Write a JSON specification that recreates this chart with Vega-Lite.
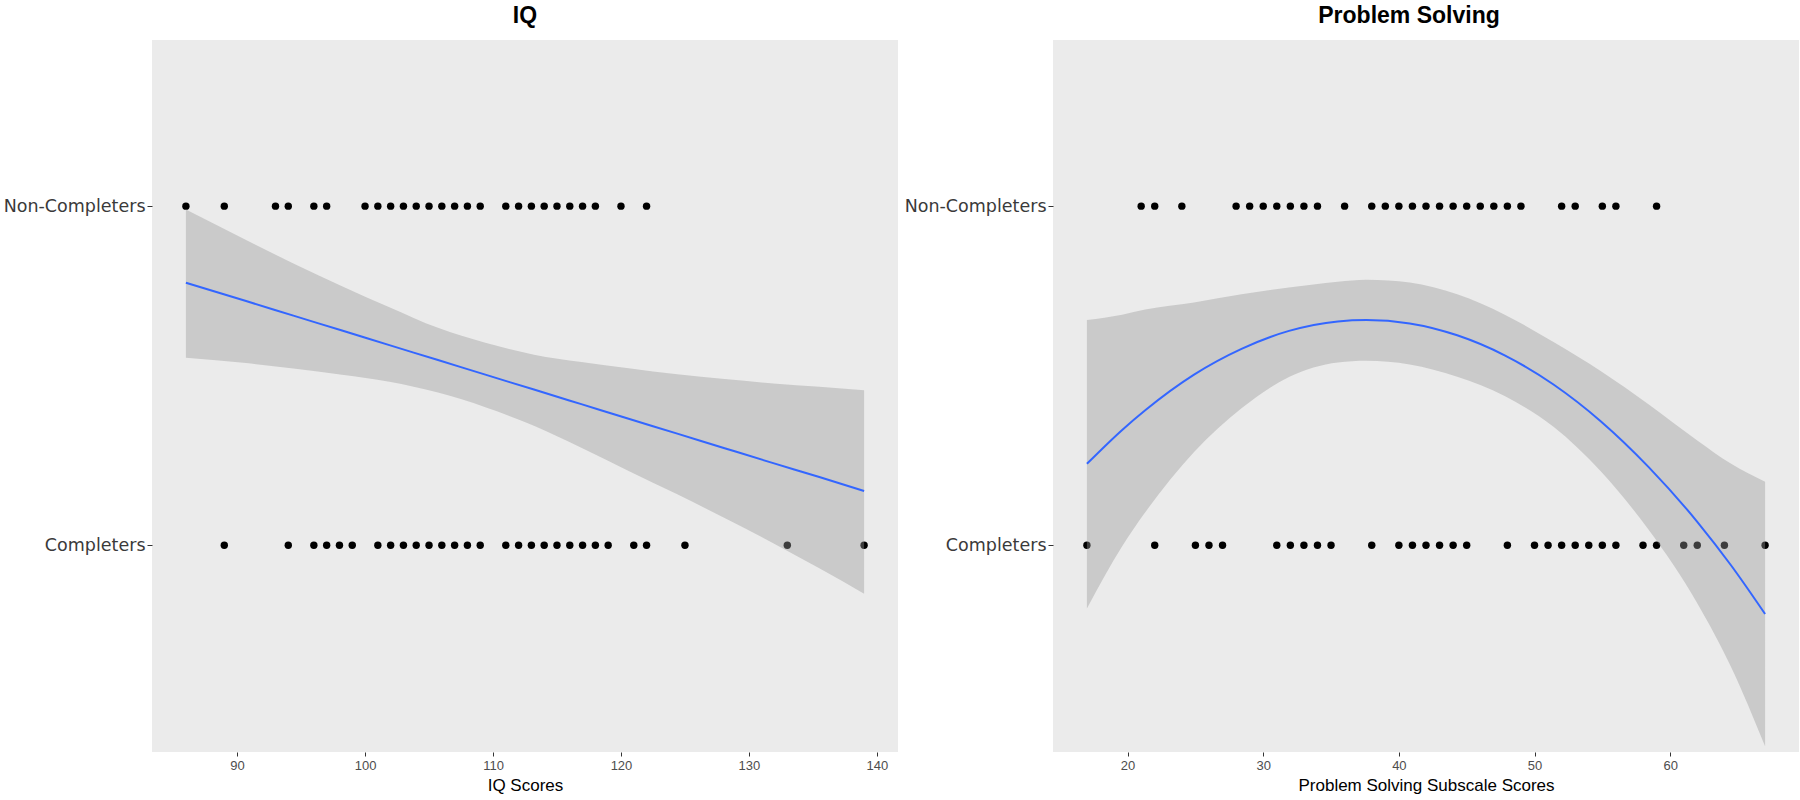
{
  "$schema": "https://vega.github.io/schema/vega-lite/v6.json",
  "padding": {"left": 3, "top": 5, "right": 2, "bottom": 6},
  "background": "white",
  "bounds": "flush",
  "spacing": 155,
  "config": {
    "view": {"fill": "#EBEBEB", "stroke": null},
    "axis": {"grid": false, "domain": false, "tickColor": "#333333"},
    "axisX": {"tickSize": 4, "labelPadding": 3, "labelFont": "Liberation Sans", "labelFontSize": 13, "labelColor": "#4D4D4D", "titleFont": "Liberation Sans", "titleFontSize": 17, "titleFontWeight": "normal", "titleColor": "#000000", "titlePadding": 5},
    "axisY": {"tickSize": 5, "labelPadding": 2, "labelFont": "DejaVu Sans", "labelFontSize": 17.5, "labelColor": "#3A3A3A"},
    "title": {"font": "Liberation Sans", "fontSize": 23, "fontWeight": "bold", "color": "#000000", "offset": 12, "anchor": "middle"}
  },
  "datasets": {
    "iq_points": [
      {"score": 86, "outcome": 1}, {"score": 89, "outcome": 1}, {"score": 93, "outcome": 1}, {"score": 94, "outcome": 1}, {"score": 96, "outcome": 1}, {"score": 97, "outcome": 1},
      {"score": 100, "outcome": 1}, {"score": 101, "outcome": 1}, {"score": 102, "outcome": 1}, {"score": 103, "outcome": 1}, {"score": 104, "outcome": 1}, {"score": 105, "outcome": 1}, {"score": 106, "outcome": 1}, {"score": 107, "outcome": 1}, {"score": 108, "outcome": 1}, {"score": 109, "outcome": 1},
      {"score": 111, "outcome": 1}, {"score": 112, "outcome": 1}, {"score": 113, "outcome": 1}, {"score": 114, "outcome": 1}, {"score": 115, "outcome": 1}, {"score": 116, "outcome": 1}, {"score": 117, "outcome": 1}, {"score": 118, "outcome": 1},
      {"score": 120, "outcome": 1}, {"score": 122, "outcome": 1},
      {"score": 89, "outcome": 0}, {"score": 94, "outcome": 0}, {"score": 96, "outcome": 0}, {"score": 97, "outcome": 0}, {"score": 98, "outcome": 0}, {"score": 99, "outcome": 0},
      {"score": 101, "outcome": 0}, {"score": 102, "outcome": 0}, {"score": 103, "outcome": 0}, {"score": 104, "outcome": 0}, {"score": 105, "outcome": 0}, {"score": 106, "outcome": 0}, {"score": 107, "outcome": 0}, {"score": 108, "outcome": 0}, {"score": 109, "outcome": 0},
      {"score": 111, "outcome": 0}, {"score": 112, "outcome": 0}, {"score": 113, "outcome": 0}, {"score": 114, "outcome": 0}, {"score": 115, "outcome": 0}, {"score": 116, "outcome": 0}, {"score": 117, "outcome": 0}, {"score": 118, "outcome": 0}, {"score": 119, "outcome": 0},
      {"score": 121, "outcome": 0}, {"score": 122, "outcome": 0}, {"score": 125, "outcome": 0}, {"score": 133, "outcome": 0}, {"score": 139, "outcome": 0}
    ],
    "iq_fit": [
      {"score": 86, "lower": 0.553, "upper": 0.990, "fit": 0.774},
      {"score": 90.7, "lower": 0.537, "upper": 0.900, "fit": 0.720},
      {"score": 94.4, "lower": 0.521, "upper": 0.831, "fit": 0.677},
      {"score": 98.2, "lower": 0.503, "upper": 0.764, "fit": 0.633},
      {"score": 101.9, "lower": 0.482, "upper": 0.702, "fit": 0.590},
      {"score": 105.7, "lower": 0.450, "upper": 0.641, "fit": 0.546},
      {"score": 109.4, "lower": 0.407, "upper": 0.597, "fit": 0.503},
      {"score": 113.2, "lower": 0.352, "upper": 0.562, "fit": 0.459},
      {"score": 116.9, "lower": 0.287, "upper": 0.540, "fit": 0.416},
      {"score": 120.6, "lower": 0.219, "upper": 0.522, "fit": 0.373},
      {"score": 124.4, "lower": 0.150, "upper": 0.504, "fit": 0.329},
      {"score": 128.1, "lower": 0.080, "upper": 0.490, "fit": 0.286},
      {"score": 131.9, "lower": 0.006, "upper": 0.477, "fit": 0.242},
      {"score": 135.5, "lower": -0.068, "upper": 0.467, "fit": 0.201},
      {"score": 139, "lower": -0.143, "upper": 0.457, "fit": 0.160}
    ],
    "ps_points": [
      {"score": 21, "outcome": 1}, {"score": 22, "outcome": 1}, {"score": 24, "outcome": 1},
      {"score": 28, "outcome": 1}, {"score": 29, "outcome": 1}, {"score": 30, "outcome": 1}, {"score": 31, "outcome": 1}, {"score": 32, "outcome": 1}, {"score": 33, "outcome": 1}, {"score": 34, "outcome": 1},
      {"score": 36, "outcome": 1},
      {"score": 38, "outcome": 1}, {"score": 39, "outcome": 1}, {"score": 40, "outcome": 1}, {"score": 41, "outcome": 1}, {"score": 42, "outcome": 1}, {"score": 43, "outcome": 1}, {"score": 44, "outcome": 1}, {"score": 45, "outcome": 1}, {"score": 46, "outcome": 1}, {"score": 47, "outcome": 1}, {"score": 48, "outcome": 1}, {"score": 49, "outcome": 1},
      {"score": 52, "outcome": 1}, {"score": 53, "outcome": 1}, {"score": 55, "outcome": 1}, {"score": 56, "outcome": 1}, {"score": 59, "outcome": 1},
      {"score": 17, "outcome": 0}, {"score": 22, "outcome": 0}, {"score": 25, "outcome": 0}, {"score": 26, "outcome": 0}, {"score": 27, "outcome": 0},
      {"score": 31, "outcome": 0}, {"score": 32, "outcome": 0}, {"score": 33, "outcome": 0}, {"score": 34, "outcome": 0}, {"score": 35, "outcome": 0},
      {"score": 38, "outcome": 0},
      {"score": 40, "outcome": 0}, {"score": 41, "outcome": 0}, {"score": 42, "outcome": 0}, {"score": 43, "outcome": 0}, {"score": 44, "outcome": 0}, {"score": 45, "outcome": 0},
      {"score": 48, "outcome": 0},
      {"score": 50, "outcome": 0}, {"score": 51, "outcome": 0}, {"score": 52, "outcome": 0}, {"score": 53, "outcome": 0}, {"score": 54, "outcome": 0}, {"score": 55, "outcome": 0}, {"score": 56, "outcome": 0},
      {"score": 58, "outcome": 0}, {"score": 59, "outcome": 0}, {"score": 61, "outcome": 0}, {"score": 62, "outcome": 0}, {"score": 64, "outcome": 0}, {"score": 67, "outcome": 0}
    ],
    "ps_fit": [
      {"score": 17, "lower": -0.187, "upper": 0.664, "fit": 0.240},
      {"score": 19.6, "lower": -0.003, "upper": 0.680, "fit": 0.340},
      {"score": 21.3, "lower": 0.097, "upper": 0.695, "fit": 0.398},
      {"score": 24.9, "lower": 0.275, "upper": 0.716, "fit": 0.503},
      {"score": 28.4, "lower": 0.404, "upper": 0.740, "fit": 0.579},
      {"score": 31.9, "lower": 0.496, "upper": 0.760, "fit": 0.632},
      {"score": 35.5, "lower": 0.539, "upper": 0.777, "fit": 0.660},
      {"score": 37.6, "lower": 0.544, "upper": 0.783, "fit": 0.664},
      {"score": 40.8, "lower": 0.533, "upper": 0.775, "fit": 0.654},
      {"score": 44.3, "lower": 0.497, "upper": 0.740, "fit": 0.619},
      {"score": 47.8, "lower": 0.440, "upper": 0.680, "fit": 0.560},
      {"score": 51.4, "lower": 0.349, "upper": 0.599, "fit": 0.474},
      {"score": 54.9, "lower": 0.217, "upper": 0.513, "fit": 0.365},
      {"score": 58.4, "lower": 0.046, "upper": 0.416, "fit": 0.231},
      {"score": 62.0, "lower": -0.171, "upper": 0.309, "fit": 0.069},
      {"score": 64.5, "lower": -0.360, "upper": 0.240, "fit": -0.060},
      {"score": 67, "lower": -0.593, "upper": 0.187, "fit": -0.203}
    ]
  },
  "hconcat": [
    {
      "title": "IQ",
      "width": 746,
      "height": 712,
      "layer": [
        {
          "data": {"name": "iq_points"},
          "mark": {"type": "circle", "size": 55, "color": "#000000", "opacity": 1},
          "encoding": {
            "x": {"field": "score", "type": "quantitative", "scale": {"domain": [83.35, 141.65], "nice": false, "zero": false}, "axis": {"title": "IQ Scores", "values": [90, 100, 110, 120, 130, 140]}},
            "y": {"field": "outcome", "type": "quantitative", "scale": {"domain": [-0.61, 1.49], "nice": false, "zero": false}, "axis": {"title": null, "values": [0, 1], "labelExpr": "datum.value == 1 ? 'Non-Completers' : 'Completers'"}}
          }
        },
        {
          "data": {"name": "iq_fit"},
          "mark": {"type": "area", "color": "#999999", "opacity": 0.4, "interpolate": "monotone"},
          "encoding": {
            "x": {"field": "score", "type": "quantitative", "scale": {"domain": [83.35, 141.65], "nice": false, "zero": false}, "axis": {"title": "IQ Scores", "values": [90, 100, 110, 120, 130, 140]}},
            "y": {"field": "lower", "type": "quantitative", "scale": {"domain": [-0.61, 1.49], "nice": false, "zero": false}, "axis": {"title": null, "values": [0, 1], "labelExpr": "datum.value == 1 ? 'Non-Completers' : 'Completers'"}},
            "y2": {"field": "upper"}
          }
        },
        {
          "data": {"name": "iq_fit"},
          "mark": {"type": "line", "color": "#3366FF", "strokeWidth": 2, "interpolate": "monotone"},
          "encoding": {
            "x": {"field": "score", "type": "quantitative", "scale": {"domain": [83.35, 141.65], "nice": false, "zero": false}, "axis": {"title": "IQ Scores", "values": [90, 100, 110, 120, 130, 140]}},
            "y": {"field": "fit", "type": "quantitative", "scale": {"domain": [-0.61, 1.49], "nice": false, "zero": false}, "axis": {"title": null, "values": [0, 1], "labelExpr": "datum.value == 1 ? 'Non-Completers' : 'Completers'"}}
          }
        }
      ]
    },
    {
      "title": {"text": "Problem Solving", "dx": -17},
      "width": 746,
      "height": 712,
      "layer": [
        {
          "data": {"name": "ps_points"},
          "mark": {"type": "circle", "size": 55, "color": "#000000", "opacity": 1},
          "encoding": {
            "x": {"field": "score", "type": "quantitative", "scale": {"domain": [14.5, 69.5], "nice": false, "zero": false}, "axis": {"title": "Problem Solving Subscale Scores", "values": [20, 30, 40, 50, 60]}},
            "y": {"field": "outcome", "type": "quantitative", "scale": {"domain": [-0.61, 1.49], "nice": false, "zero": false}, "axis": {"title": null, "values": [0, 1], "labelExpr": "datum.value == 1 ? 'Non-Completers' : 'Completers'"}}
          }
        },
        {
          "data": {"name": "ps_fit"},
          "mark": {"type": "area", "color": "#999999", "opacity": 0.4, "interpolate": "monotone"},
          "encoding": {
            "x": {"field": "score", "type": "quantitative", "scale": {"domain": [14.5, 69.5], "nice": false, "zero": false}, "axis": {"title": "Problem Solving Subscale Scores", "values": [20, 30, 40, 50, 60]}},
            "y": {"field": "lower", "type": "quantitative", "scale": {"domain": [-0.61, 1.49], "nice": false, "zero": false}, "axis": {"title": null, "values": [0, 1], "labelExpr": "datum.value == 1 ? 'Non-Completers' : 'Completers'"}},
            "y2": {"field": "upper"}
          }
        },
        {
          "data": {"name": "ps_fit"},
          "mark": {"type": "line", "color": "#3366FF", "strokeWidth": 2, "interpolate": "monotone"},
          "encoding": {
            "x": {"field": "score", "type": "quantitative", "scale": {"domain": [14.5, 69.5], "nice": false, "zero": false}, "axis": {"title": "Problem Solving Subscale Scores", "values": [20, 30, 40, 50, 60]}},
            "y": {"field": "fit", "type": "quantitative", "scale": {"domain": [-0.61, 1.49], "nice": false, "zero": false}, "axis": {"title": null, "values": [0, 1], "labelExpr": "datum.value == 1 ? 'Non-Completers' : 'Completers'"}}
          }
        }
      ]
    }
  ]
}
